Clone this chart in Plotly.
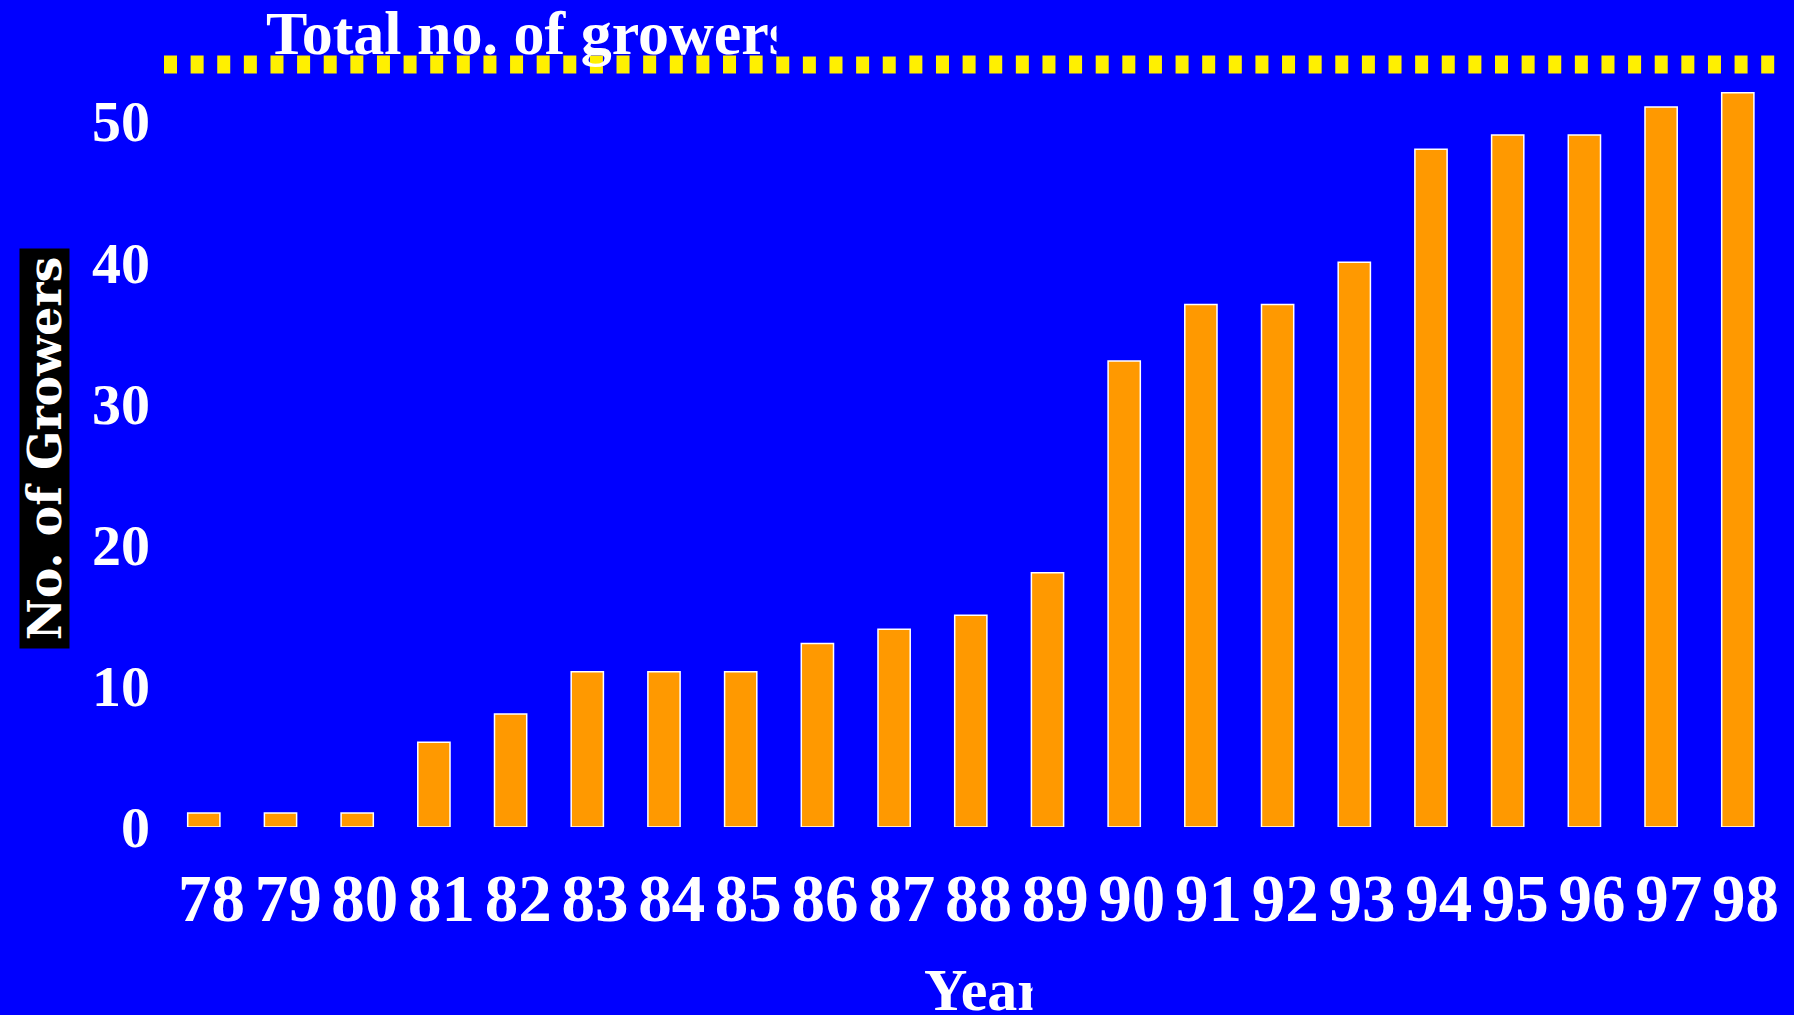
import plotly.graph_objects as go

# Growers per year
YEARS = ["78", "79", "80", "81", "82", "83", "84", "85", "86", "87", "88",
         "89", "90", "91", "92", "93", "94", "95", "96", "97", "98"]
GROWERS = [1, 1, 1, 6, 8, 11, 11, 11, 13, 14, 15,
           18, 33, 37, 37, 40, 48, 49, 49, 51, 52]
TOTAL_GROWERS = 54
Y_TICKS = [0, 10, 20, 30, 40, 50]

BLUE = "#0000FF"
ORANGE = "#FF9900"
YELLOW = "#FFF000"
SERIF = "Liberation Serif, Times New Roman, serif"

W, H = 1794, 1015
ML, MR, MT, MB = 155, 0, 0, 188
PW, PH = W - ML - MR, H - MT - MB
PX_PER_CAT = 76.7
PX_PER_UNIT = 14.12


def px_x(p):
    return (p - ML) / PW


def px_y(p):
    return 1 - (p - MT) / PH


xs = list(range(len(YEARS)))
x0 = -(203.8 - ML) / PX_PER_CAT
x1 = x0 + PW / PX_PER_CAT

fig = go.Figure()
fig.add_trace(go.Bar(
    x=xs, y=GROWERS, width=0.42,
    marker=dict(color=ORANGE, line=dict(color="white", width=1.5)),
))

# dotted line marking the total number of growers
fig.add_shape(
    type="line", xref="paper", yref="y",
    x0=px_x(164), x1=px_x(1775), y0=TOTAL_GROWERS, y1=TOTAL_GROWERS,
    line=dict(color=YELLOW, width=18, dash="13px,13.62px"),
)

annotations = [
    dict(text="<b>Total no. of growers</b>", xref="paper", yref="paper",
         x=px_x(264), y=px_y(33), xanchor="left", yanchor="middle",
         showarrow=False, font=dict(family=SERIF, size=62, color="white")),
    dict(text="<b>Year</b>", xref="paper", yref="paper",
         x=px_x(922), y=px_y(990), xanchor="left", yanchor="middle",
         showarrow=False, font=dict(family=SERIF, size=60, color="white")),
    dict(text="<b>No. of Growers</b>", xref="paper", yref="paper",
         x=px_x(44.5), y=px_y(448.5), xanchor="center", yanchor="middle",
         textangle=-90, showarrow=False, bgcolor="black",
         width=399, height=49, borderpad=0,
         font=dict(family="DejaVu Serif", size=46, color="white")),
    # blue panels that crop the ends of the title and the axis label
    dict(text=" ", xref="paper", yref="paper",
         x=px_x(776), y=px_y(0), xanchor="left", yanchor="top",
         width=120, height=55, bgcolor=BLUE, borderpad=0,
         showarrow=False),
    dict(text=" ", xref="paper", yref="paper",
         x=px_x(1032), y=px_y(940), xanchor="left", yanchor="top",
         width=80, height=75, bgcolor=BLUE, borderpad=0,
         showarrow=False),
]

fig.update_layout(
    width=W, height=H,
    margin=dict(l=ML, r=MR, t=MT, b=MB, pad=0),
    paper_bgcolor=BLUE, plot_bgcolor=BLUE,
    showlegend=False,
    annotations=annotations,
    xaxis=dict(
        range=[x0, x1], tickmode="array", tickvals=[x + 0.1 for x in xs],
        ticktext=[f"<b>{y}</b>" for y in YEARS],
        showgrid=False, zeroline=False, showline=False, ticks="",
        ticklabelstandoff=26,
        tickfont=dict(family=SERIF, size=67, color="white"),
    ),
    yaxis=dict(
        range=[0, PH / PX_PER_UNIT], tickmode="array", tickvals=Y_TICKS,
        ticktext=[f"<b>{v}</b>" for v in Y_TICKS],
        showgrid=False, zeroline=False, showline=False, ticks="",
        ticklabelstandoff=4,
        tickfont=dict(family=SERIF, size=58, color="white"),
    ),
)

fig.write_html("out.html")
